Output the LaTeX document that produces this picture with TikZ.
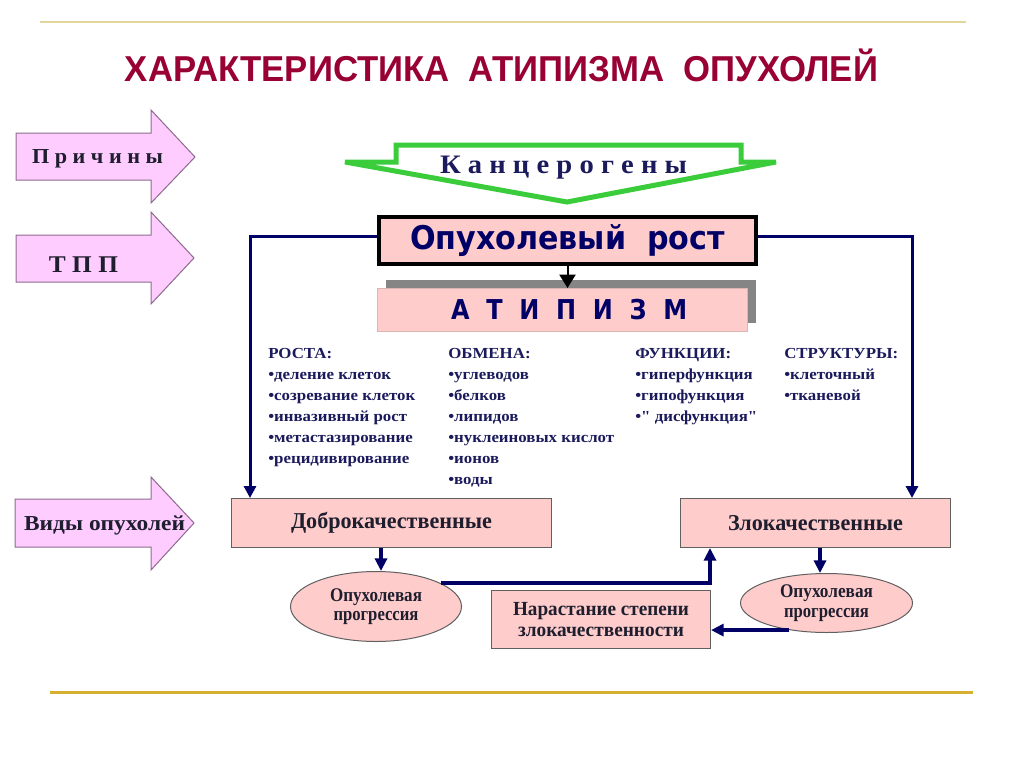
\documentclass[tikz,border=0pt]{standalone}
\usepackage{fontspec}
\setmainfont{Liberation Serif}
\newfontfamily\rawserif[Ligatures=ResetAll]{Liberation Serif}
\newfontfamily\dvsans{DejaVu Sans}
\newfontfamily\lsans{Liberation Sans}
\usetikzlibrary{arrows.meta,shapes.geometric,shadows,calc}
\definecolor{pinkbox}{HTML}{FFCCCC}
\definecolor{pinkarrow}{HTML}{FFCCFF}
\definecolor{arrowedge}{HTML}{8C6C8C}
\definecolor{navy}{HTML}{000066}
\definecolor{textnavy}{HTML}{1A1A5C}
\definecolor{darktext}{HTML}{1E1E2E}
\definecolor{titlered}{HTML}{990033}
\definecolor{kgreen}{HTML}{3ACC3A}
\definecolor{topline}{HTML}{E2D69C}
\definecolor{botline}{HTML}{D6B030}
\definecolor{boxedge}{HTML}{606060}
\definecolor{shadowgray}{HTML}{858585}
\newcommand\fitw[2]{\resizebox{#1}{\height}{#2}}
\newcommand\dq{{\rawserif\bfseries"}}
\begin{document}
\begin{tikzpicture}[x=0.75pt,y=-0.75pt,
  leftarrow/.style={fill=pinkarrow, draw=arrowedge, line width=0.75pt},
  arrowtext/.style={anchor=base, inner sep=0pt, text=darktext, font=\bfseries\fontsize{16}{19}\selectfont},
  pbox/.style={rectangle, fill=pinkbox, draw=boxedge, line width=0.75pt, inner sep=0pt, align=center},
  pell/.style={ellipse, fill=pinkbox, draw=boxedge, line width=0.75pt, inner sep=0pt, align=center},
  topconn/.style={draw=navy, line width=2.25pt, -{Triangle[length=9pt,width=9pt]}},
  botconn/.style={draw=navy, line width=3pt, -{Triangle[length=9.5pt,width=9pt]}},
  coltext/.style={anchor=base west, inner sep=0pt, text=textnavy, font=\bfseries\fontsize{11.5}{15.75}\selectfont},
  boxtext/.style={text=darktext, font=\bfseries\fontsize{17}{20}\selectfont},
  smalltext/.style={text=darktext, font=\bfseries\fontsize{14.5}{14.5}\selectfont},
  nartext/.style={text=darktext, font=\bfseries\fontsize{15}{15.75}\selectfont}]
\useasboundingbox (0,0) rectangle (1024,767);
\fill[white] (0,0) rectangle (1024,767);

% rules
\draw[topline, line width=1.5pt] (40,22) -- (966,22);
\draw[botline, line width=2.25pt] (50,692) -- (973,692);

% title
\node[anchor=base, inner sep=0pt, text=titlered, font=\lsans\bfseries\fontsize{27}{30}\selectfont] (title) at (501.5,82)
  {\fitw{564.75pt}{ХАРАКТЕРИСТИКА~~АТИПИЗМА~~ОПУХОЛЕЙ}};

% left arrows
\draw[leftarrow] (16,133) -- (151,133) -- (151,110) -- (195,157) -- (151,203) -- (151,180) -- (16,180) -- cycle;
\draw[leftarrow] (16,235) -- (151,235) -- (151,212) -- (194,258) -- (151,304) -- (151,282) -- (16,282) -- cycle;
\draw[leftarrow] (15,499) -- (151,499) -- (151,477) -- (194,523) -- (151,570) -- (151,547) -- (15,547) -- cycle;
\node[arrowtext] (pr) at (97.5,163) {\fitw{98.25pt}{П р и ч и н ы}};
\node[arrowtext, font=\bfseries\fontsize{18}{20}\selectfont] (tpp) at (83.5,272) {\fitw{51.75pt}{Т П П}};
\node[arrowtext] (vid) at (104.5,530) {\fitw{120.75pt}{Виды опухолей}};

% green arrow
\draw[kgreen, fill=white, line width=3.75pt] (345,162) -- (396,162) -- (396,145) -- (741,145) -- (741,162) -- (776,162) -- (567,202) -- cycle;
\node[anchor=base, inner sep=0pt, text=textnavy, font=\bfseries\fontsize{20}{24}\selectfont] (kanc) at (563.5,173)
  {\fitw{185.25pt}{К а н ц е р о г е н ы}};

% main boxes
\node[rectangle, fill=pinkbox, draw=black, line width=3pt, inner sep=0pt,
      minimum width=282.75pt, minimum height=35.25pt, text=navy,
      font=\dvsans\bfseries\fontsize{24.5}{28}\selectfont] (rost) at (567.5,240.5)
  {\fitw{236.25pt}{Опухолевый~~рост}};
\node[pbox, draw=pinkbox!70!gray, minimum width=277.5pt, minimum height=32.25pt,
      drop shadow={shadow xshift=6.375pt, shadow yshift=6.375pt, fill=shadowgray, opacity=1},
      text=navy, font=\dvsans\bfseries\fontsize{20.5}{24}\selectfont] (atip) at (562.5,310)
  {\hspace*{10pt}\fitw{177pt}{А~~Т~~И~~П~~И~~З~~М}};

\draw[black, line width=1.5pt, -{Triangle[length=10pt,width=12pt]}] (rost.south) -- (rost.south |- atip.north);

% columns
\node[coltext] (c1) at (268,358) {\scalebox{1.1}[1]{\begin{tabular}[t]{@{}l@{}}РОСТА:\\•деление клеток\\•созревание клеток\\•инвазивный рост\\•метастазирование\\•рецидивирование\end{tabular}}};
\node[coltext] (c2) at (448,358) {\scalebox{1.1}[1]{\begin{tabular}[t]{@{}l@{}}ОБМЕНА:\\•углеводов\\•белков\\•липидов\\•нуклеиновых кислот\\•ионов\\•воды\end{tabular}}};
\node[coltext] (c3) at (635,358) {\scalebox{1.1}[1]{\begin{tabular}[t]{@{}l@{}}ФУНКЦИИ:\\•гиперфункция\\•гипофункция\\•\dq{} дисфункция\dq\end{tabular}}};
\node[coltext] (c4) at (784,358) {\scalebox{1.1}[1]{\begin{tabular}[t]{@{}l@{}}СТРУКТУРЫ:\\•клеточный\\•тканевой\end{tabular}}};

% lower boxes
\node[pbox, minimum width=240pt, minimum height=36.75pt, boxtext] (dobro) at (391.5,523)
  {\fitw{150.75pt}{Доброкачественные}};
\node[pbox, minimum width=202.5pt, minimum height=36.75pt, boxtext] (zlo) at (815.5,523)
  {\fitw{131.25pt}{Злокачественные}};
\node[pell, minimum width=128.25pt, minimum height=52.5pt, smalltext] (el1) at (376,606.5)
  {\fitw{69pt}{Опухолевая}\\\fitw{63.75pt}{прогрессия}};
\node[pell, minimum width=129pt, minimum height=44.25pt, smalltext] (el2) at (826.5,603)
  {\fitw{69.75pt}{Опухолевая}\\\fitw{63.75pt}{прогрессия}};
\node[pbox, minimum width=164.25pt, minimum height=43.5pt, nartext] (nar) at (601,619.5)
  {\fitw{132pt}{Нарастание степени}\\\fitw{124.5pt}{злокачественности}};

% connectors
\coordinate (lx) at (250,0);
\coordinate (rx) at (912,0);
\coordinate (ly) at (0,236);
\draw[topconn] (rost.west |- ly) -| (lx |- dobro.north);
\draw[topconn] (rost.east |- ly) -| (rx |- zlo.north);

\coordinate (ax1) at (381,0);
\coordinate (ax2) at (710,0);
\coordinate (ax3) at (820,0);
\draw[botconn] (ax1 |- dobro.south) -- (ax1 |- el1.north);
\draw[botconn] (el1.20) -| (ax2 |- zlo.south);
\draw[botconn] (ax3 |- zlo.south) -- (ax3 |- el2.north);
\draw[botconn] (el2.216) -- (nar.east |- el2.216);
\end{tikzpicture}
\end{document}
